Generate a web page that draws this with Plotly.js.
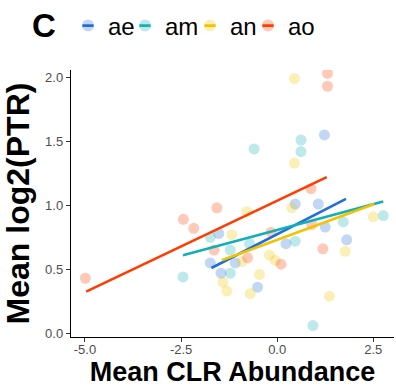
<!DOCTYPE html>
<html>
<head>
<meta charset="utf-8">
<script src="https://cdn.plot.ly/plotly-3.0.1.min.js"></script>
<style>html,body{margin:0;padding:0;background:#fff;}#chart{width:396px;height:387px;}</style>
</head>
<body>
<div id="chart"></div>
<script>
// Groups
const groups = ["ae", "am", "an", "ao"];

// Points (Mean CLR Abundance, Mean log2(PTR))
const aeX = [1.23, 0.47, 1.07, 1.25, 1.81, 0.23, -1.52, -1.74, -1.46, -1.09, -0.51];
const aeY = [1.55, 1.01, 1.01, 0.83, 0.73, 0.70, 0.78, 0.55, 0.47, 0.55, 0.36];

const amX = [-0.60, 0.62, 0.62, -2.45, -1.74, -1.22, -1.22, -0.72, 0.47, 1.72, 2.76, 0.93];
const amY = [1.44, 1.51, 1.42, 0.44, 0.75, 0.65, 0.47, 0.70, 0.72, 0.87, 0.92, 0.06];

const anX = [0.45, 0.45, 0.38, -0.79, -1.18, 2.50, 1.77, 1.36, -0.20, -0.05, -0.92, -0.46, -1.41, -1.31, -0.70];
const anY = [1.99, 1.33, 0.98, 0.95, 0.77, 0.91, 0.64, 0.29, 0.61, 0.57, 0.56, 0.46, 0.40, 0.33, 0.31];

const aoX = [-4.99, -2.44, -2.17, -1.57, -1.64, -0.77, -0.16, 0.10, 0.88, 0.90, 1.19, 1.31, 1.31];
const aoY = [0.43, 0.89, 0.82, 0.98, 0.65, 0.59, 0.79, 0.54, 1.13, 0.85, 0.66, 2.03, 1.93];

// Fitted regression lines (endpoints)
const aeFitX = [-1.71, 1.79], aeFitY = [0.51, 1.05];
const amFitX = [-2.45, 2.76], amFitY = [0.61, 1.03];
const anFitX = [-1.44, 2.53], anFitY = [0.57, 1.01];
const aoFitX = [-4.97, 1.29], aoFitY = [0.325, 1.22];

// Tick labels
const xTicks = [-5.0, -2.5, 0.0, 2.5];
const xTickText = ["-5.0", "-2.5", "0.0", "2.5"];
const yTicks = [0.0, 0.5, 1.0, 1.5, 2.0];
const yTickText = ["0.0", "0.5", "1.0", "1.5", "2.0"];

const lineColors = {ae: "#1f6fd6", am: "#12b0b6", an: "#f0c400", ao: "#ff3d00"};
const pointAlpha = 0.28;
function rgba(hex, a) {
  const r = parseInt(hex.slice(1,3),16), g = parseInt(hex.slice(3,5),16), b = parseInt(hex.slice(5,7),16);
  return `rgba(${r},${g},${b},${a})`;
}

const pts = {ae: [aeX, aeY], am: [amX, amY], an: [anX, anY], ao: [aoX, aoY]};
const fits = {ae: [aeFitX, aeFitY], am: [amFitX, amFitY], an: [anFitX, anFitY], ao: [aoFitX, aoFitY]};
const legendIds = {ae: "legend", am: "legend2", an: "legend3", ao: "legend4"};
const legendLineIds = {ae: "legend5", am: "legend6", an: "legend7", ao: "legend8"};
const legendPx = {ae: 68, am: 125, an: 190, ao: 248};

const traces = [];
groups.forEach(g => {
  traces.push({
    x: pts[g][0], y: pts[g][1], type: "scatter", mode: "markers",
    marker: {size: 11, color: rgba(lineColors[g], pointAlpha), line: {width: 0}},
    showlegend: false, hoverinfo: "skip"
  });
});
groups.forEach(g => {
  traces.push({
    x: fits[g][0], y: fits[g][1], type: "scatter", mode: "lines",
    line: {color: lineColors[g], width: 2.6},
    showlegend: false, hoverinfo: "skip"
  });
});
// legend entries: light circle with the name
groups.forEach(g => {
  traces.push({
    x: [null], y: [null], type: "scatter", mode: "markers", name: g,
    marker: {size: 12, color: rgba(lineColors[g], pointAlpha)},
    showlegend: true, legend: legendIds[g]
  });
});
// legend entries: short dark line drawn over the circle
groups.forEach(g => {
  traces.push({
    x: [null], y: [null], type: "scatter", mode: "markers", name: " ",
    marker: {size: 8, symbol: "line-ew", color: lineColors[g], line: {color: lineColors[g], width: 2.6}},
    showlegend: true, legend: legendLineIds[g]
  });
});

const FONT = "Liberation Sans, Arial, Helvetica, sans-serif";
function legendAt(px) {
  return {
    orientation: "h", x: px / 396, y: 1 - 26 / 387, xanchor: "left", yanchor: "middle",
    xref: "container", yref: "container",
    font: {size: 24, color: "#000", family: FONT},
    itemwidth: 30, bgcolor: "rgba(0,0,0,0)"
  };
}
const layout = {
  width: 396, height: 387,
  margin: {l: 71, r: 2, t: 70, b: 50},
  paper_bgcolor: "#fff", plot_bgcolor: "#fff",
  font: {family: FONT, color: "#000"},
  showlegend: true,
  xaxis: {
    range: [-5.364, 3.04], tickvals: xTicks, ticktext: xTickText,
    showgrid: false, zeroline: false, showline: true, linecolor: "#000", linewidth: 1.2,
    ticks: "outside", ticklen: 4, tickcolor: "#333", tickwidth: 1,
    ticklabelstandoff: -4,
    tickfont: {size: 13, color: "#4d4d4d", family: FONT},
    title: {text: "<b>Mean CLR Abundance</b>", font: {size: 27, color: "#000", family: FONT}, standoff: 12}
  },
  yaxis: {
    range: [-0.029, 2.057], tickvals: yTicks, ticktext: yTickText,
    showgrid: false, zeroline: false, showline: true, linecolor: "#000", linewidth: 1.2,
    ticks: "outside", ticklen: 4, tickcolor: "#333", tickwidth: 1,
    tickfont: {size: 13, color: "#4d4d4d", family: FONT},
    title: {text: "<b>Mean log2(PTR)</b>", font: {size: 32, color: "#000", family: FONT}, standoff: 8}
  },
  annotations: [{
    text: "<b>C</b>", xref: "paper", yref: "paper", x: -0.127, y: 1.1685,
    xanchor: "left", yanchor: "middle", showarrow: false,
    font: {size: 33, color: "#000", family: FONT}
  }]
};
groups.forEach(g => {
  layout[legendIds[g]] = legendAt(legendPx[g]);
  layout[legendLineIds[g]] = legendAt(legendPx[g]);
});

Plotly.newPlot("chart", traces, layout, {displayModeBar: false, staticPlot: true});
</script>
</body>
</html>
